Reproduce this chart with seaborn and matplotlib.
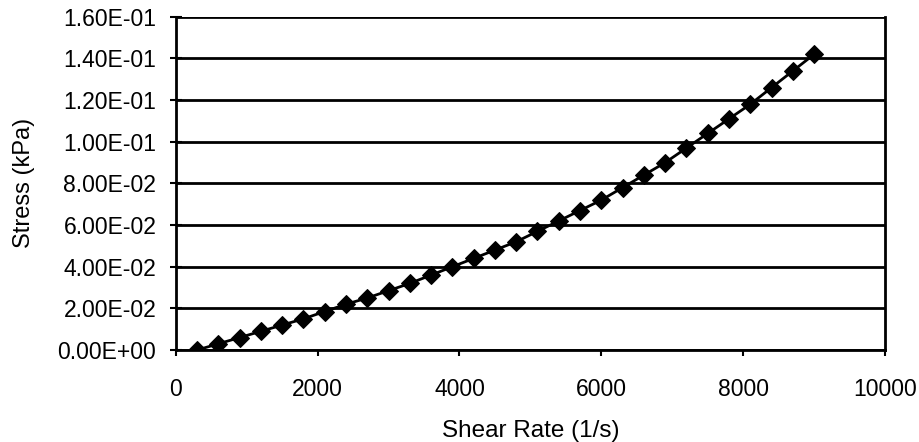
import pandas as pd
import matplotlib.pyplot as plt
import seaborn as sns

shear_rate = [300, 600, 900, 1200, 1500, 1800, 2100, 2400, 2700, 3000,
              3300, 3600, 3900, 4200, 4500, 4800, 5100, 5400, 5700, 6000,
              6300, 6600, 6900, 7200, 7500, 7800, 8100, 8400, 8700, 9000]
stress = [0.0, 0.003, 0.006, 0.009, 0.012, 0.015, 0.0185, 0.022, 0.025, 0.0285,
          0.032, 0.036, 0.040, 0.044, 0.048, 0.052, 0.057, 0.062, 0.067, 0.072,
          0.078, 0.084, 0.090, 0.097, 0.104, 0.111, 0.118, 0.126, 0.134, 0.142]
x_ticks = [0, 2000, 4000, 6000, 8000, 10000]
y_ticks = [0.0, 0.02, 0.04, 0.06, 0.08, 0.10, 0.12, 0.14, 0.16]

df = pd.DataFrame({'shear_rate': shear_rate, 'stress': stress})

sns.set_style('white')
plt.rcParams['font.family'] = ['Liberation Sans', 'DejaVu Sans']

fig = plt.figure(figsize=(9.2, 4.42), dpi=100)
ax = fig.add_axes([0.191, 0.208, 0.771, 0.754])

sns.lineplot(data=df, x='shear_rate', y='stress', ax=ax, color='black',
             linewidth=2, marker='D', markersize=9, markeredgecolor='black')

ax.set_xlim(0, 10000)
ax.set_ylim(0, 0.16)
ax.set_xticks(x_ticks)
ax.set_yticks(y_ticks)
ax.set_yticklabels([f'{v:.2E}' for v in y_ticks])
ax.yaxis.grid(True, color='black', linewidth=2)
ax.xaxis.grid(False)
ax.set_axisbelow(True)

for side in ['left', 'bottom', 'right']:
    ax.spines[side].set_color('black')
    ax.spines[side].set_linewidth(2)
ax.spines['top'].set_visible(False)

ax.tick_params(axis='both', labelsize=16.5, colors='black', labelcolor='black',
               width=1.5, bottom=True, left=True)
ax.tick_params(axis='x', direction='out', length=4, pad=16)
ax.tick_params(axis='y', direction='inout', length=8, pad=10)

ax.set_xlabel('Shear Rate (1/s)', fontsize=17.5, labelpad=14, color='black')
ax.set_ylabel('Stress (kPa)', fontsize=17, labelpad=16, color='black')

fig.savefig('out.png', dpi=100, facecolor='white')
